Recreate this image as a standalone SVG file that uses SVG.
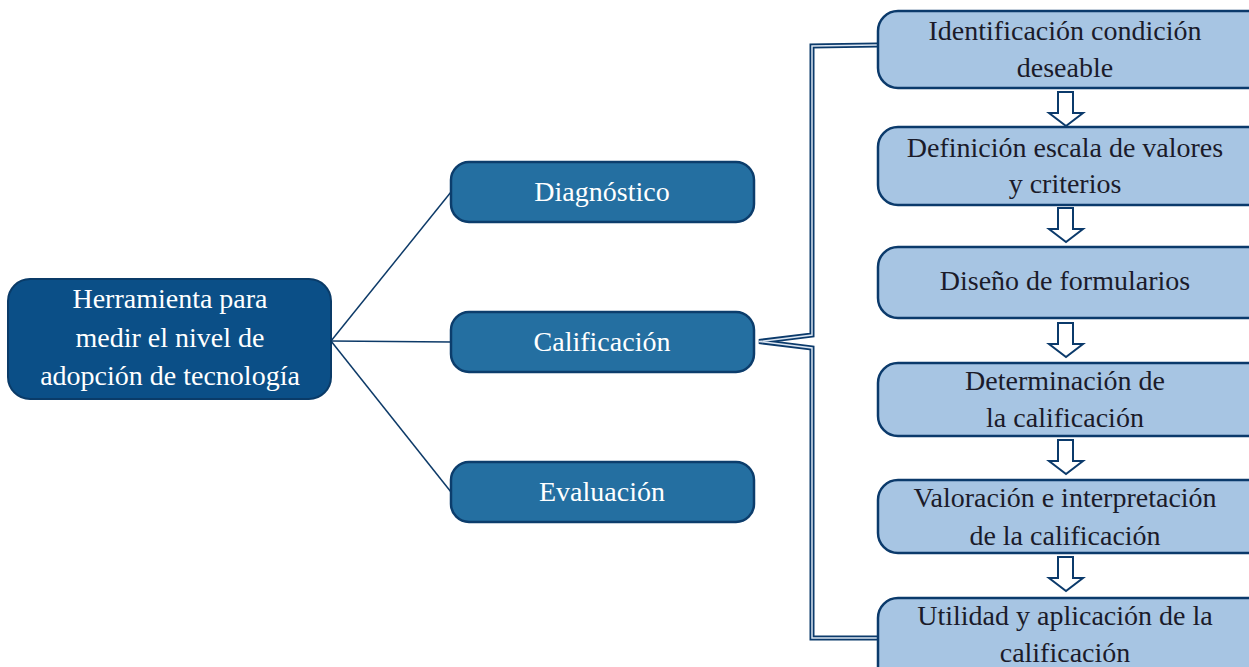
<svg xmlns="http://www.w3.org/2000/svg" width="1249" height="667" viewBox="0 0 1249 667">
<defs>
<style>
.main{fill:#0b4f87;stroke:#0a3b68;stroke-width:2}
.mid{fill:#246fa1;stroke:#0c3d6c;stroke-width:2.5}
.step{fill:#a7c5e3;stroke:#0b3a6b;stroke-width:2.5}
.tw{font-family:"Liberation Serif",serif;font-size:28px;fill:#ffffff;text-anchor:middle}
.tb{font-family:"Liberation Serif",serif;font-size:28px;fill:#1b1b2a;text-anchor:middle}
.conn{stroke:#0d3a68;stroke-width:1.5;fill:none}
.arr{fill:#ffffff;stroke:#0b3a6b;stroke-width:2}
</style>
</defs>
<rect width="1249" height="667" fill="#ffffff"/>
<g id="connectors">
<line class="conn" x1="331" y1="341" x2="451" y2="192"/>
<line class="conn" x1="331" y1="341" x2="451" y2="342"/>
<line class="conn" x1="331" y1="341" x2="451" y2="492"/>
<path d="M877 45 L812 46 L812 335 L759 341.5 L812 348 L812 638 L877 638" fill="none" stroke="#0b3a6b" stroke-width="5" stroke-linejoin="miter"/>
<path d="M877 45 L812 46 L812 335 L759 341.5 L812 348 L812 638 L877 638" fill="none" stroke="#dce6f2" stroke-width="1.5" stroke-linejoin="miter"/>
</g>
<g id="n-main"><rect class="main" x="8" y="279" width="323" height="120" rx="22"/>
<text class="tw" x="170" y="308">Herramienta para</text>
<text class="tw" x="170" y="347">medir el nivel de</text>
<text class="tw" x="170" y="385">adopción de tecnología</text></g>
<g id="n-diag"><rect class="mid" x="451" y="162" width="303" height="60" rx="18"/>
<text class="tw" x="602" y="201">Diagnóstico</text></g>
<g id="n-calif"><rect class="mid" x="451" y="312" width="303" height="60" rx="18"/>
<text class="tw" x="602" y="351">Calificación</text></g>
<g id="n-eval"><rect class="mid" x="451" y="462" width="303" height="60" rx="18"/>
<text class="tw" x="602" y="501">Evaluación</text></g>
<g id="s1"><rect class="step" x="878" y="11" width="390" height="77" rx="20"/>
<text class="tb" x="1065" y="40">Identificación condición</text>
<text class="tb" x="1065" y="77">deseable</text></g>
<g id="s2"><rect class="step" x="878" y="127" width="390" height="78" rx="20"/>
<text class="tb" x="1065" y="157">Definición escala de valores</text>
<text class="tb" x="1065" y="193">y criterios</text></g>
<g id="s3"><rect class="step" x="878" y="247" width="390" height="71" rx="20"/>
<text class="tb" x="1065" y="290">Diseño de formularios</text></g>
<g id="s4"><rect class="step" x="878" y="363" width="390" height="73" rx="20"/>
<text class="tb" x="1065" y="390">Determinación de</text>
<text class="tb" x="1065" y="427">la calificación</text></g>
<g id="s5"><rect class="step" x="878" y="480" width="390" height="73" rx="20"/>
<text class="tb" x="1065" y="507">Valoración e interpretación</text>
<text class="tb" x="1065" y="545">de la calificación</text></g>
<g id="s6"><rect class="step" x="878" y="598" width="390" height="90" rx="20"/>
<text class="tb" x="1065" y="625">Utilidad y aplicación de la</text>
<text class="tb" x="1065" y="662">calificación</text></g>
<g id="arrows">
<path class="arr" d="M1058 92 H1073 V113 H1083 L1066 126 L1049 113 H1058 Z"/>
<path class="arr" d="M1058 208 H1073 V229 H1083 L1066 242 L1049 229 H1058 Z"/>
<path class="arr" d="M1058 323 H1073 V344 H1083 L1066 357 L1049 344 H1058 Z"/>
<path class="arr" d="M1058 440 H1073 V461 H1083 L1066 474 L1049 461 H1058 Z"/>
<path class="arr" d="M1058 557 H1073 V578 H1083 L1066 591 L1049 578 H1058 Z"/>
</g>
</svg>
